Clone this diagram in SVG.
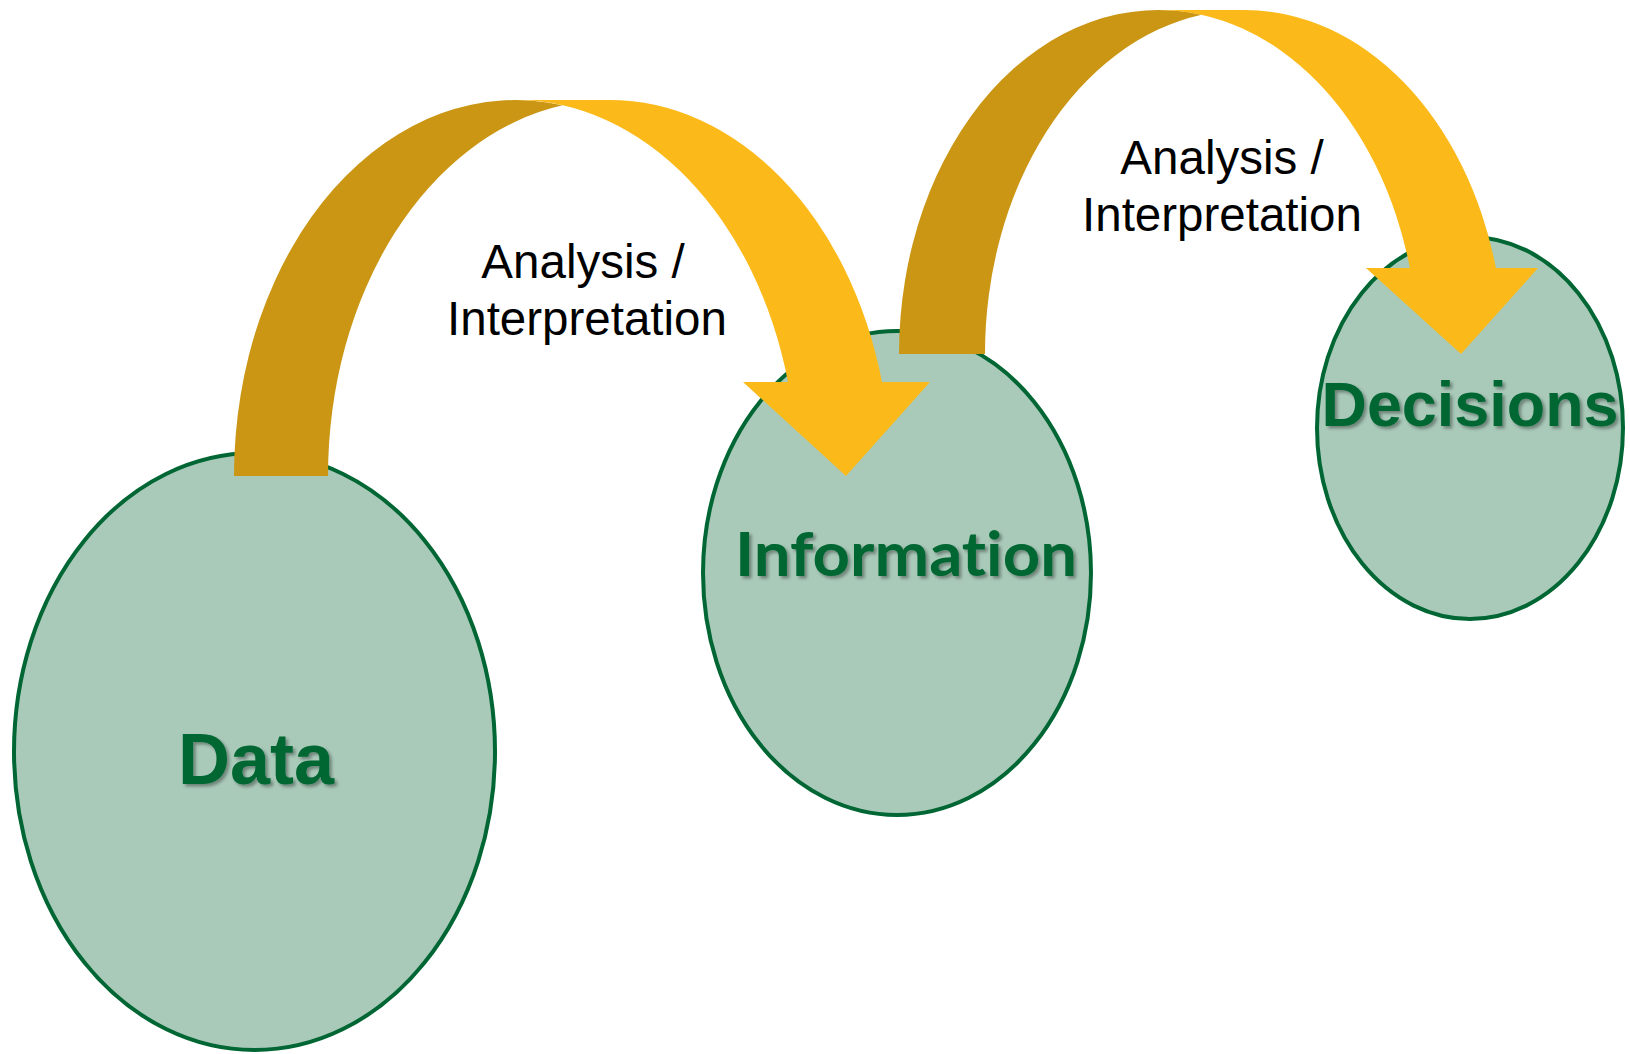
<svg xmlns="http://www.w3.org/2000/svg" width="1630" height="1054" viewBox="0 0 1630 1054">
<defs>
<filter id="sh" x="-10%" y="-20%" width="130%" height="150%">
<feDropShadow dx="2.5" dy="2.5" stdDeviation="1.5" flood-color="#000000" flood-opacity="0.35"/>
</filter>
</defs>
<style>
.node{fill:#A9C9B9;stroke:#006633;stroke-width:4}
.ntxt{fill:#006633;font-weight:bold;text-anchor:middle;filter:url(#sh);font-variant-ligatures:none}
.back{fill:#CA9614}
.front{fill:#FBBA1A}
.lbl{font-family:"Liberation Sans",Arial,sans-serif;font-size:47.5px;fill:#000000;text-anchor:middle}
</style>
<rect width="1630" height="1054" fill="#FFFFFF"/>
<g id="node-data">
<ellipse class="node" cx="254.5" cy="751.5" rx="240.5" ry="298.5"/>
<text class="ntxt" x="256" y="784" font-family="'Liberation Sans',Arial,sans-serif" font-size="72" textLength="156" lengthAdjust="spacingAndGlyphs">Data</text>
</g>
<g id="node-information">
<ellipse class="node" cx="897" cy="573" rx="194" ry="242"/>
<text class="ntxt" x="906" y="576" font-family="Lato,'Open Sans',sans-serif" font-size="61" textLength="342" lengthAdjust="spacingAndGlyphs">Information</text>
</g>
<g id="node-decisions">
<ellipse class="node" cx="1470" cy="428" rx="153" ry="191"/>
<text class="ntxt" x="1470" y="426" font-family="'Liberation Sans',Arial,sans-serif" font-size="63" textLength="297" lengthAdjust="spacingAndGlyphs">Decisions</text>
</g>
<g id="connectors">
<g id="arrow-data-information">
<path class="back" d="M234,476 A281.5,376 0 0 1 562.5,105.3 A281.5,376 0 0 0 328,476 Z"/>
<path class="front" d="M788,382 A281.5,376 0 0 0 515.5,100 L609.5,100 A281.5,376 0 0 1 882,382 L930,382 L846,476 L743,382 Z"/>
<text class="lbl" x="583" y="278">Analysis /</text>
<text class="lbl" x="587" y="335">Interpretation</text>
</g>
<g id="arrow-information-decisions">
<path class="back" d="M899,354 A259.6,344 0 0 1 1201.6,14.7 A259.6,344 0 0 0 985,354 Z"/>
<path class="front" d="M1409.9,268 A259.6,344 0 0 0 1158.6,10 L1244.6,10 A259.6,344 0 0 1 1495.9,268 L1538,268 L1461,354 L1366,268 Z"/>
<text class="lbl" x="1222" y="174">Analysis /</text>
<text class="lbl" x="1222" y="231">Interpretation</text>
</g>
</g>
</svg>
